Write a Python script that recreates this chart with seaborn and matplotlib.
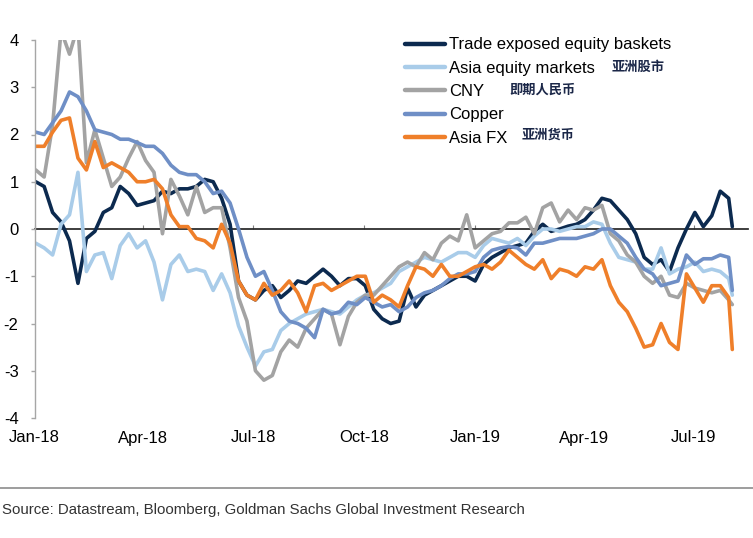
import numpy as np
import pandas as pd
import matplotlib
matplotlib.use("Agg")
import matplotlib.pyplot as plt
import matplotlib.dates as mdates
from matplotlib.lines import Line2D
from matplotlib.ticker import NullFormatter
import seaborn as sns

# ---------------- data ----------------
dates = list(pd.date_range("2018-01-02", periods=83, freq="7D")) + [pd.Timestamp("2019-08-02")]

trade_exposed = [1.0, 0.9, 0.35, 0.15, -0.25, -1.15, -0.2, -0.05, 0.35, 0.45,
                 0.9, 0.75, 0.5, 0.55, 0.6, 0.8, 0.75, 0.85, 0.85, 0.9,
                 1.05, 1.0, 0.65, 0.1, -1.1, -1.4, -1.5, -1.3, -1.2, -1.45,
                 -1.3, -1.1, -1.15, -1.0, -0.85, -1.0, -1.2, -1.05, -1.05, -1.2,
                 -1.7, -1.9, -2.0, -1.95, -1.25, -1.65, -1.4, -1.3, -1.2, -1.1,
                 -1.0, -1.0, -1.1, -0.75, -0.6, -0.5, -0.4, -0.35, -0.3, -0.05,
                 0.1, -0.05, 0.0, 0.06, 0.1, 0.2, 0.4, 0.65, 0.6, 0.4,
                 0.2, -0.1, -0.6, -0.75, -0.65, -0.9, -0.4, 0.0, 0.35, 0.05,
                 0.28, 0.8, 0.65, 0.05]

asia_equity = [-0.3, -0.4, -0.55, 0.1, 0.3, 1.2, -0.9, -0.55, -0.5, -1.05,
               -0.35, -0.1, -0.4, -0.25, -0.7, -1.5, -0.75, -0.55, -0.9, -0.85,
               -0.9, -1.3, -0.95, -1.35, -2.05, -2.5, -2.9, -2.6, -2.55, -2.15,
               -2.0, -1.9, -1.8, -1.75, -1.7, -1.75, -1.8, -1.65, -1.5, -1.4,
               -1.35, -1.25, -1.15, -0.9, -0.8, -0.7, -0.6, -0.65, -0.7, -0.6,
               -0.5, -0.5, -0.6, -0.35, -0.2, -0.25, -0.3, -0.2, -0.35, -0.15,
               0.0, 0.0, -0.05, 0.0, 0.05, 0.05, 0.15, 0.1, -0.3, -0.6,
               -0.65, -0.7, -0.85, -0.85, -0.4, -0.95, -0.85, -0.8, -0.7, -0.9,
               -0.85, -0.9, -1.05, -1.4]

cny = [1.25, 1.1, 2.2, 4.2, 3.7, 4.3, 1.4, 2.1, 1.5, 0.9,
       1.1, 1.5, 1.85, 1.45, 1.2, -0.1, 1.05, 0.7, 0.3, 0.9,
       0.35, 0.45, 0.45, -0.4, -1.45, -1.95, -3.0, -3.2, -3.1, -2.6,
       -2.35, -2.5, -2.1, -1.9, -1.7, -1.8, -2.45, -1.85, -1.55, -1.4,
       -1.4, -1.2, -1.0, -0.8, -0.7, -0.8, -0.5, -0.65, -0.3, -0.15,
       -0.25, 0.3, -0.4, -0.25, -0.1, -0.05, 0.13, 0.13, 0.25, -0.1,
       0.45, 0.55, 0.15, 0.4, 0.2, 0.45, 0.4, 0.5, -0.1, -0.25,
       -0.55, -0.7, -1.0, -1.15, -1.0, -1.4, -1.45, -1.15, -1.25, -1.3,
       -1.35, -1.3, -1.5, -1.6]

copper = [2.05, 2.0, 2.25, 2.5, 2.9, 2.8, 2.5, 2.1, 2.05, 2.0,
          1.9, 1.9, 1.83, 1.75, 1.75, 1.6, 1.35, 1.2, 1.15, 1.15,
          1.0, 0.75, 0.8, 0.55, 0.0, -0.6, -1.0, -0.9, -1.3, -1.75,
          -1.95, -2.0, -2.1, -2.3, -1.7, -1.8, -1.75, -1.55, -1.6, -1.45,
          -1.55, -1.65, -1.6, -1.75, -1.65, -1.45, -1.35, -1.3, -1.2, -1.05,
          -0.95, -0.95, -0.9, -0.6, -0.45, -0.4, -0.37, -0.4, -0.55, -0.3,
          -0.3, -0.25, -0.2, -0.2, -0.2, -0.15, -0.1, 0.0, 0.0, -0.15,
          -0.3, -0.6, -0.85, -0.95, -1.2, -1.15, -1.1, -0.55, -0.75, -0.63,
          -0.63, -0.55, -0.6, -1.3]

asia_fx = [1.75, 1.75, 2.05, 2.3, 2.35, 1.5, 1.25, 1.85, 1.3, 1.4,
           1.3, 1.2, 1.0, 1.0, 1.05, 0.85, 0.3, 0.05, 0.05, -0.2,
           -0.25, -0.4, 0.1, -0.3, -1.1, -1.4, -1.5, -1.15, -1.4, -1.3,
           -1.1, -1.35, -1.75, -1.2, -1.15, -1.3, -1.2, -1.1, -1.0, -1.0,
           -1.55, -1.4, -1.5, -1.65, -1.2, -0.8, -0.85, -1.0, -0.75, -1.0,
           -1.0, -0.9, -0.8, -0.75, -0.85, -0.7, -0.45, -0.6, -0.75, -0.85,
           -0.65, -1.05, -0.85, -0.9, -1.0, -0.8, -0.85, -0.65, -1.2, -1.55,
           -1.75, -2.1, -2.5, -2.45, -2.0, -2.4, -2.55, -0.95, -1.25, -1.55,
           -1.2, -1.2, -1.45, -2.55]

series_names = ["Trade exposed equity baskets", "Asia equity markets", "CNY", "Copper", "Asia FX"]
series_values = [trade_exposed, asia_equity, cny, copper, asia_fx]
series_colors = ["#0c2a4f", "#a9cce9", "#a3a3a3", "#6f8fc6", "#ef7f2a"]
cn_notes = {"Asia equity markets": "亚洲股市", "CNY": "即期人民币", "Asia FX": "亚洲货币"}

y_ticks = [4, 3, 2, 1, 0, -1, -2, -3, -4]
source_text = "Source: Datastream, Bloomberg, Goldman Sachs Global Investment Research"

# ---------------- build table ----------------
frames = []
for name, vals in zip(series_names, series_values):
    frames.append(pd.DataFrame({"date": dates, "value": vals, "series": name}))
df = pd.concat(frames, ignore_index=True)

# ---------------- style ----------------
sns.set_theme(style="white")
plt.rcParams["font.family"] = ["Liberation Sans", "DejaVu Sans"]

W, H = 753, 538
fig = plt.figure(figsize=(W / 100, H / 100), dpi=100)
ax = fig.add_axes([34.5 / W, 1 - 418 / H, 713.5 / W, 378 / H])

sns.lineplot(data=df, x="date", y="value", hue="series", hue_order=series_names,
             palette=series_colors, linewidth=2.6, ax=ax, sort=True,
             estimator=None, legend=True)

ax.set_ylim(-4, 4)
ax.set_xlim(pd.Timestamp("2018-01-01"), pd.Timestamp("2019-08-15"))
ax.set_xlabel("")
ax.set_ylabel("")
ax.set_yticks(y_ticks)
ax.set_yticklabels([str(t) for t in y_ticks])

ax.xaxis.set_major_locator(mdates.MonthLocator(bymonth=[1, 4, 7, 10]))
ax.xaxis.set_major_formatter(mdates.DateFormatter("%b-%y"))

for side in ["top", "right", "bottom"]:
    ax.spines[side].set_visible(False)
ax.spines["left"].set_color("#a6a6a6")
ax.spines["left"].set_linewidth(1.0)

ax.tick_params(axis="y", left=True, length=3, width=1, color="#a6a6a6",
               pad=8.5, labelsize=12, labelcolor="black")
ax.tick_params(axis="x", bottom=False, length=0, pad=9, labelsize=12, labelcolor="black")

# zero line as secondary x-axis with small ticks
sec = ax.secondary_xaxis(0.5)
sec.xaxis.set_major_locator(mdates.MonthLocator(bymonth=[1, 4, 7, 10]))
sec.xaxis.set_major_formatter(NullFormatter())
sec.tick_params(axis="x", direction="out", length=3, width=0.8, color="#7f7f7f",
                labelbottom=False, labeltop=False)
sec.spines["bottom"].set_color("#7f7f7f")
sec.spines["bottom"].set_linewidth(1.0)

# legend
handles, labels = ax.get_legend_handles_labels()
for h in handles:
    h.set_linewidth(3.2)
leg = ax.legend(handles, labels, loc="upper left",
                bbox_to_anchor=(405 / W, 1 - 37.5 / H), bbox_transform=fig.transFigure,
                frameon=False, fontsize=12, handlelength=2.4, handletextpad=0.25,
                labelspacing=0.5, borderpad=0, borderaxespad=0)
for t in leg.get_texts():
    t.set_color("black")

# chinese annotations next to legend entries
cn_pos = {"Asia equity markets": (638, 67), "CNY": (543, 90), "Asia FX": (548, 135)}
for key, txt in cn_notes.items():
    px, py = cn_pos[key]
    fig.text(px / W, 1 - py / H, txt, ha="center", va="center", fontsize=9.5,
             fontweight="bold", color="#1b2748",
             family=["Noto Sans CJK SC", "DejaVu Sans"])

# separator and source
fig.add_artist(Line2D([0, 1], [1 - 488 / H, 1 - 488 / H], transform=fig.transFigure,
                      color="#8c8c8c", linewidth=1.2))
fig.text(2 / W, 1 - 510 / H, source_text, ha="left", va="center", fontsize=10.8,
         color="#333333", family=["Liberation Sans", "DejaVu Sans"])

fig.savefig("out.png", dpi=100)
